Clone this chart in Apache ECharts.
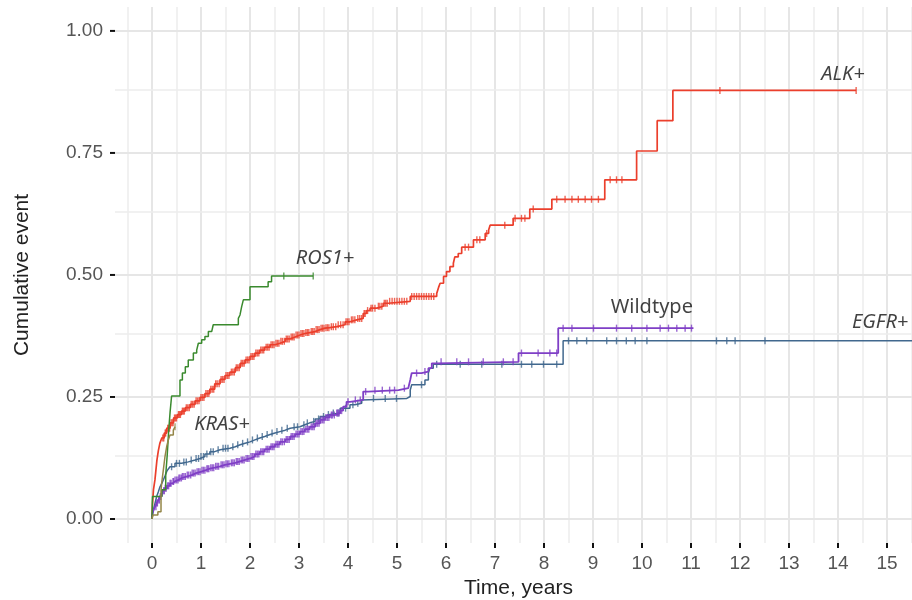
<!DOCTYPE html>
<html>
<head>
<meta charset="utf-8">
<script src="https://cdn.jsdelivr.net/npm/echarts@6/dist/echarts.min.js"></script>
<style>html,body{margin:0;padding:0;background:#fff;}#c{width:912px;height:600px;}</style>
</head>
<body>
<div id="c"></div>
<script>
// ---- tick / grid positions ----
const xTicks = [0,1,2,3,4,5,6,7,8,9,10,11,12,13,14,15];
const xMinor = [-0.5,0.5,1.5,2.5,3.5,4.5,5.5,6.5,7.5,8.5,9.5,10.5,11.5,12.5,13.5,14.5,15.5];
const yTicks = [0,0.25,0.5,0.75,1];
const yMinor = [0.125,0.375,0.625,0.875];
const X_MIN = -0.755, X_MAX = 15.51, Y_MIN = -0.0492, Y_MAX = 1.049;

// ---- step curves [time, cumulative event] ----
const alkSteps = [[0,0],[0.01,0.03],[0.03,0.06],[0.06,0.08],[0.08,0.10],[0.1,0.12],[0.13,0.14],[0.16,0.155],[0.2,0.166],[0.25,0.176],[0.3,0.186],[0.37,0.197],[0.44,0.207],[0.52,0.214],[0.6,0.221],[0.68,0.228],[0.78,0.235],[0.88,0.242],[0.98,0.249],[1.08,0.257],[1.18,0.266],[1.28,0.277],[1.39,0.286],[1.49,0.294],[1.59,0.301],[1.7,0.31],[1.8,0.319],[1.9,0.326],[2.0,0.333],[2.1,0.34],[2.2,0.346],[2.3,0.352],[2.41,0.357],[2.51,0.36],[2.61,0.364],[2.72,0.369],[2.82,0.373],[2.92,0.377],[3.02,0.380],[3.12,0.382],[3.22,0.384],[3.33,0.388],[3.43,0.391],[3.53,0.392],[3.63,0.394],[3.77,0.398],[3.94,0.404],[4.04,0.408],[4.18,0.411],[4.31,0.421],[4.38,0.427],[4.45,0.432],[4.59,0.436],[4.72,0.442],[4.82,0.446],[5.27,0.456],[5.81,0.462],[5.85,0.475],[5.88,0.483],[5.95,0.497],[6.01,0.507],[6.08,0.517],[6.15,0.524],[6.18,0.537],[6.25,0.544],[6.32,0.557],[6.56,0.572],[6.80,0.585],[6.87,0.592],[6.90,0.602],[7.37,0.616],[7.71,0.635],[8.16,0.655],[9.24,0.695],[9.89,0.754],[10.31,0.816],[10.63,0.878],[14.37,0.878]];
const alkCensor = [[0.22,0.166],[0.24,0.166],[0.27,0.176],[0.28,0.176],[0.32,0.186],[0.34,0.186],[0.36,0.186],[0.39,0.197],[0.41,0.197],[0.43,0.197],[0.46,0.207],[0.48,0.207],[0.5,0.207],[0.54,0.214],[0.56,0.214],[0.58,0.214],[0.62,0.221],[0.64,0.221],[0.66,0.221],[0.7,0.228],[0.73,0.228],[0.76,0.228],[0.8,0.235],[0.83,0.235],[0.86,0.235],[0.9,0.242],[0.93,0.242],[0.96,0.242],[1.0,0.249],[1.03,0.249],[1.06,0.249],[1.1,0.257],[1.13,0.257],[1.16,0.257],[1.2,0.266],[1.23,0.266],[1.26,0.266],[1.3,0.277],[1.33,0.277],[1.37,0.277],[1.41,0.286],[1.44,0.286],[1.47,0.286],[1.51,0.294],[1.54,0.294],[1.57,0.294],[1.62,0.301],[1.65,0.301],[1.68,0.301],[1.72,0.31],[1.75,0.31],[1.78,0.31],[1.82,0.319],[1.85,0.319],[1.88,0.319],[1.92,0.326],[1.95,0.326],[1.98,0.326],[2.02,0.333],[2.05,0.333],[2.08,0.333],[2.12,0.34],[2.15,0.34],[2.18,0.34],[2.22,0.346],[2.25,0.346],[2.28,0.346],[2.33,0.352],[2.36,0.352],[2.39,0.352],[2.43,0.357],[2.46,0.357],[2.49,0.357],[2.53,0.36],[2.56,0.36],[2.59,0.36],[2.63,0.364],[2.66,0.364],[2.7,0.364],[2.74,0.369],[2.77,0.369],[2.8,0.369],[2.84,0.373],[2.87,0.373],[2.9,0.373],[2.94,0.377],[2.97,0.377],[3.0,0.377],[3.04,0.380],[3.07,0.380],[3.1,0.380],[3.14,0.382],[3.17,0.382],[3.2,0.382],[3.25,0.384],[3.28,0.384],[3.31,0.384],[3.35,0.388],[3.38,0.388],[3.41,0.388],[3.45,0.391],[3.48,0.391],[3.51,0.391],[3.55,0.392],[3.58,0.392],[3.61,0.392],[3.66,0.394],[3.7,0.394],[3.75,0.394],[3.8,0.398],[3.85,0.398],[3.9,0.398],[3.96,0.404],[3.99,0.404],[4.02,0.404],[4.07,0.408],[4.1,0.408],[4.14,0.408],[4.2,0.411],[4.24,0.411],[4.28,0.411],[4.33,0.421],[4.35,0.421],[4.4,0.427],[4.47,0.432],[4.5,0.432],[4.55,0.432],[4.62,0.436],[4.65,0.436],[4.69,0.436],[4.74,0.442],[4.77,0.442],[4.8,0.442],[4.85,0.446],[4.9,0.446],[4.95,0.446],[5.0,0.446],[5.05,0.446],[5.1,0.446],[5.15,0.446],[5.2,0.446],[5.3,0.456],[5.35,0.456],[5.4,0.456],[5.45,0.456],[5.5,0.456],[5.55,0.456],[5.6,0.456],[5.65,0.456],[5.7,0.456],[5.75,0.456],[6.39,0.557],[6.46,0.557],[6.63,0.572],[6.69,0.572],[6.83,0.585],[7.20,0.602],[7.41,0.616],[7.54,0.616],[7.61,0.616],[7.78,0.635],[8.26,0.655],[8.43,0.655],[8.57,0.655],[8.70,0.655],[8.84,0.655],[8.97,0.655],[9.11,0.655],[9.35,0.695],[9.48,0.695],[9.59,0.695],[11.59,0.878],[14.37,0.878]];

const egfrSteps = [[0,0],[0.01,0.008],[0.027,0.018],[0.061,0.032],[0.095,0.046],[0.13,0.056],[0.163,0.066],[0.2,0.073],[0.231,0.080],[0.265,0.088],[0.299,0.097],[0.33,0.102],[0.367,0.107],[0.469,0.114],[0.605,0.117],[0.741,0.121],[0.88,0.124],[0.98,0.128],[1.08,0.133],[1.18,0.138],[1.28,0.142],[1.39,0.145],[1.59,0.148],[1.7,0.152],[1.80,0.155],[1.9,0.158],[2.0,0.162],[2.1,0.166],[2.2,0.169],[2.3,0.173],[2.41,0.176],[2.51,0.179],[2.61,0.182],[2.72,0.186],[2.82,0.189],[3.02,0.193],[3.12,0.197],[3.22,0.2],[3.33,0.205],[3.43,0.21],[3.53,0.214],[3.63,0.217],[3.84,0.227],[4.04,0.234],[4.14,0.237],[4.28,0.244],[4.31,0.247],[5.20,0.251],[5.27,0.264],[5.30,0.275],[5.57,0.285],[5.64,0.299],[5.67,0.309],[5.74,0.317],[8.39,0.365],[16,0.365]];
const egfrCensor = [[0.4,0.107],[0.5,0.114],[0.56,0.114],[0.65,0.117],[0.7,0.117],[0.8,0.121],[0.9,0.124],[0.95,0.124],[1.0,0.128],[1.05,0.128],[1.12,0.133],[1.2,0.138],[1.25,0.138],[1.35,0.142],[1.45,0.145],[1.5,0.145],[1.55,0.145],[1.65,0.148],[1.75,0.152],[1.85,0.155],[1.95,0.158],[2.05,0.162],[2.15,0.166],[2.25,0.169],[2.35,0.173],[2.45,0.176],[2.55,0.179],[2.65,0.182],[2.76,0.186],[2.9,0.189],[2.97,0.189],[3.1,0.193],[3.17,0.197],[3.3,0.2],[3.4,0.205],[3.5,0.21],[3.6,0.214],[3.7,0.217],[3.8,0.217],[3.95,0.227],[4.1,0.234],[4.2,0.237],[4.52,0.247],[4.76,0.247],[4.99,0.247],[5.5,0.275],[5.81,0.317],[6.29,0.317],[6.73,0.317],[7.14,0.317],[7.54,0.317],[7.75,0.317],[7.99,0.317],[8.26,0.317],[8.50,0.365],[8.67,0.365],[8.87,0.365],[9.28,0.365],[9.48,0.365],[9.68,0.365],[9.86,0.365],[10.10,0.365],[11.52,0.365],[11.73,0.365],[11.90,0.365],[12.51,0.365]];

const wildSteps = [[0,0],[0.01,0.012],[0.04,0.02],[0.061,0.025],[0.095,0.033],[0.129,0.039],[0.163,0.046],[0.197,0.053],[0.231,0.058],[0.265,0.063],[0.31,0.068],[0.367,0.073],[0.42,0.077],[0.469,0.080],[0.54,0.084],[0.605,0.087],[0.7,0.09],[0.81,0.094],[0.9,0.097],[1.01,0.100],[1.1,0.103],[1.18,0.105],[1.28,0.108],[1.39,0.111],[1.49,0.113],[1.59,0.115],[1.7,0.118],[1.8,0.121],[1.9,0.124],[2.0,0.128],[2.1,0.133],[2.2,0.138],[2.3,0.143],[2.41,0.148],[2.51,0.153],[2.61,0.158],[2.72,0.163],[2.82,0.169],[2.92,0.174],[3.02,0.179],[3.12,0.184],[3.22,0.189],[3.33,0.196],[3.43,0.203],[3.53,0.208],[3.63,0.213],[3.74,0.217],[3.84,0.222],[3.9,0.23],[3.97,0.240],[4.04,0.244],[4.31,0.261],[4.41,0.264],[5.03,0.268],[5.23,0.271],[5.27,0.285],[5.30,0.299],[5.50,0.302],[5.64,0.309],[5.71,0.319],[5.8,0.322],[7.48,0.340],[8.29,0.391],[11.05,0.391]];
const wildCensor = [[0.08,0.025],[0.1,0.033],[0.11,0.033],[0.14,0.039],[0.15,0.039],[0.17,0.046],[0.18,0.046],[0.2,0.053],[0.21,0.053],[0.24,0.058],[0.25,0.058],[0.27,0.063],[0.29,0.063],[0.32,0.068],[0.34,0.068],[0.37,0.073],[0.39,0.073],[0.43,0.077],[0.44,0.077],[0.47,0.080],[0.5,0.080],[0.53,0.080],[0.55,0.084],[0.57,0.084],[0.6,0.084],[0.62,0.087],[0.65,0.087],[0.68,0.087],[0.72,0.09],[0.75,0.09],[0.79,0.09],[0.82,0.094],[0.85,0.094],[0.88,0.094],[0.92,0.097],[0.95,0.097],[0.98,0.097],[1.02,0.1],[1.05,0.1],[1.08,0.1],[1.12,0.103],[1.14,0.103],[1.16,0.103],[1.2,0.105],[1.23,0.105],[1.26,0.105],[1.3,0.108],[1.33,0.108],[1.36,0.108],[1.41,0.111],[1.44,0.111],[1.47,0.111],[1.51,0.113],[1.54,0.113],[1.57,0.113],[1.62,0.115],[1.65,0.115],[1.68,0.115],[1.72,0.118],[1.75,0.118],[1.78,0.118],[1.82,0.121],[1.85,0.121],[1.88,0.121],[1.92,0.124],[1.95,0.124],[1.98,0.124],[2.02,0.128],[2.05,0.128],[2.08,0.128],[2.12,0.133],[2.15,0.133],[2.18,0.133],[2.22,0.138],[2.25,0.138],[2.28,0.138],[2.33,0.143],[2.36,0.143],[2.39,0.143],[2.43,0.148],[2.46,0.148],[2.49,0.148],[2.53,0.153],[2.56,0.153],[2.59,0.153],[2.63,0.158],[2.66,0.158],[2.7,0.158],[2.74,0.163],[2.77,0.163],[2.8,0.163],[2.84,0.169],[2.87,0.169],[2.9,0.169],[2.94,0.174],[2.97,0.174],[3.0,0.174],[3.04,0.179],[3.07,0.179],[3.1,0.179],[3.14,0.184],[3.17,0.184],[3.2,0.184],[3.25,0.189],[3.28,0.189],[3.31,0.189],[3.35,0.196],[3.38,0.196],[3.41,0.196],[3.45,0.203],[3.48,0.203],[3.51,0.203],[3.55,0.208],[3.58,0.208],[3.61,0.208],[3.66,0.213],[3.68,0.213],[3.72,0.213],[3.77,0.217],[3.79,0.217],[3.82,0.217],[3.87,0.222],[4.0,0.240],[4.15,0.244],[4.25,0.244],[4.36,0.261],[4.55,0.264],[4.7,0.264],[4.85,0.264],[4.95,0.264],[5.15,0.268],[5.4,0.299],[5.57,0.302],[5.9,0.322],[6.22,0.322],[6.46,0.322],[6.76,0.322],[7.17,0.322],[7.37,0.322],[7.54,0.34],[7.88,0.34],[8.12,0.34],[8.26,0.34],[8.39,0.391],[8.57,0.391],[9.01,0.391],[9.48,0.391],[9.79,0.391],[10.10,0.391],[10.37,0.391],[10.54,0.391],[10.71,0.391],[10.88,0.391],[11.01,0.391]];

const ros1Steps = [[0,0],[0.01,0.046],[0.2,0.06],[0.28,0.09],[0.31,0.13],[0.34,0.18],[0.37,0.22],[0.40,0.252],[0.571,0.285],[0.62,0.299],[0.68,0.312],[0.74,0.326],[0.844,0.340],[0.912,0.346],[0.946,0.360],[1.014,0.367],[1.08,0.374],[1.15,0.384],[1.218,0.387],[1.25,0.398],[1.762,0.411],[1.796,0.418],[1.83,0.435],[1.864,0.449],[2.0,0.476],[2.37,0.486],[2.44,0.498],[3.29,0.498]];
const ros1Censor = [[2.69,0.498],[3.29,0.498]];

const krasSteps = [[0,0],[0.02,0.008],[0.12,0.015],[0.184,0.059],[0.197,0.073],[0.231,0.1],[0.265,0.128],[0.299,0.148],[0.333,0.162],[0.367,0.172],[0.435,0.182],[0.47,0.189]];
const krasCensor = [[0.47,0.189]];

// ---- curve labels ----
const labelNames = ['ALK+','ROS1+','Wildtype','EGFR+','KRAS+'];
const labelPos = [[14.1,0.912],[3.53,0.535],[10.2,0.434],[14.86,0.404],[1.43,0.195]];
const labelItalic = [true,true,false,true,true];

const colors = {alk:'#EB3F2C', egfr:'#41688E', wild:'#7F3FC6', ros1:'#3A8A2E', kras:'#948648'};

const FONT = '"Liberation Sans", Arial, sans-serif';

function curve(name, data, color, z, w){
  return {name, type:'line', step:'end', data, showSymbol:false, symbol:'none',
    lineStyle:{color, width:w}, z, silent:true, clip:true};
}
function censor(name, data, color, z){
  return {name:name+'c', type:'scatter', data, symbol:'rect', symbolSize:[1.4,7],
    itemStyle:{color}, z, silent:true};
}
// axis tick marks drawn outside the panel through the axis scales
function tickSeries(values, dim){
  return {name:'ticks'+dim, type:'custom', clip:false, silent:true, z:3,
    data: values.map(v => dim === 'x' ? [v, Y_MIN] : [X_MIN, v]),
    renderItem:(params, api) => {
      const p = api.coord([api.value(0), api.value(1)]);
      const shape = dim === 'x'
        ? {x1:p[0], y1:p[1], x2:p[0], y2:p[1] + 5}
        : {x1:p[0] - 5, y1:p[1], x2:p[0], y2:p[1]};
      return {type:'line', shape, style:{stroke:'#111', lineWidth:2}};
    }};
}

const gridData = [];
xMinor.forEach(v=>gridData.push({xAxis:v, lineStyle:{color:'#EDEDED', width:1.5, type:'solid'}}));
xTicks.forEach(v=>gridData.push({xAxis:v, lineStyle:{color:'#E6E6E6', width:2, type:'solid'}}));
yMinor.forEach(v=>gridData.push({yAxis:v, lineStyle:{color:'#EDEDED', width:1.5, type:'solid'}}));
yTicks.forEach(v=>gridData.push({yAxis:v, lineStyle:{color:'#E6E6E6', width:2, type:'solid'}}));

const chart = echarts.init(document.getElementById('c'), null, {renderer:'canvas'});
chart.setOption({
  animation:false,
  backgroundColor:'#ffffff',
  grid:{left:115, right:0, top:7, bottom:57, containLabel:false, outerBoundsMode:'none'},
  xAxis:{type:'value', min:X_MIN, max:X_MAX,
    name:'Time, years', nameLocation:'middle', nameGap:30,
    nameTextStyle:{fontFamily:FONT, fontSize:21, color:'#222', padding:[0,0,0,10]},
    axisLine:{show:false},
    axisTick:{show:false},
    axisLabel:{customValues:xTicks, fontFamily:FONT, fontSize:19, color:'#555', margin:11,
      formatter:v=>String(v)},
    splitLine:{show:false}},
  yAxis:{type:'value', min:Y_MIN, max:Y_MAX,
    name:'Cumulative event', nameLocation:'middle', nameGap:82, nameRotate:90,
    nameTextStyle:{fontFamily:FONT, fontSize:21, color:'#222'},
    axisLine:{show:false},
    axisTick:{show:false},
    axisLabel:{customValues:yTicks, fontFamily:FONT, fontSize:19, color:'#555', margin:12,
      formatter:v=>v.toFixed(2)},
    splitLine:{show:false}},
  series:[
    {name:'grid', type:'line', data:[], silent:true, z:1,
      markLine:{silent:true, symbol:['none','none'], label:{show:false}, animation:false, data:gridData}},
    tickSeries(xTicks, 'x'), tickSeries(yTicks, 'y'),
    curve('ALK+', alkSteps, colors.alk, 5, 1.7), censor('ALK+', alkCensor, colors.alk, 5),
    curve('EGFR+', egfrSteps, colors.egfr, 6, 1.5), censor('EGFR+', egfrCensor, colors.egfr, 6),
    curve('Wildtype', wildSteps, colors.wild, 7, 1.8), censor('Wildtype', wildCensor, colors.wild, 7),
    curve('ROS1+', ros1Steps, colors.ros1, 8, 1.5), censor('ROS1+', ros1Censor, colors.ros1, 8),
    curve('KRAS+', krasSteps, colors.kras, 8, 1.5), censor('KRAS+', krasCensor, colors.kras, 8),
    {name:'labels', type:'scatter', symbolSize:1, itemStyle:{color:'transparent'}, z:10, silent:true,
      data: labelNames.map((n,i)=>({name:n, value:labelPos[i],
        label:{fontStyle: labelItalic[i] ? 'italic' : 'normal'}})),
      label:{show:true, position:'inside', formatter:'{b}', fontFamily:'"Noto Sans", "Open Sans", sans-serif',
        fontSize:20, color:'#111'}}
  ]
});
</script>
</body>
</html>
